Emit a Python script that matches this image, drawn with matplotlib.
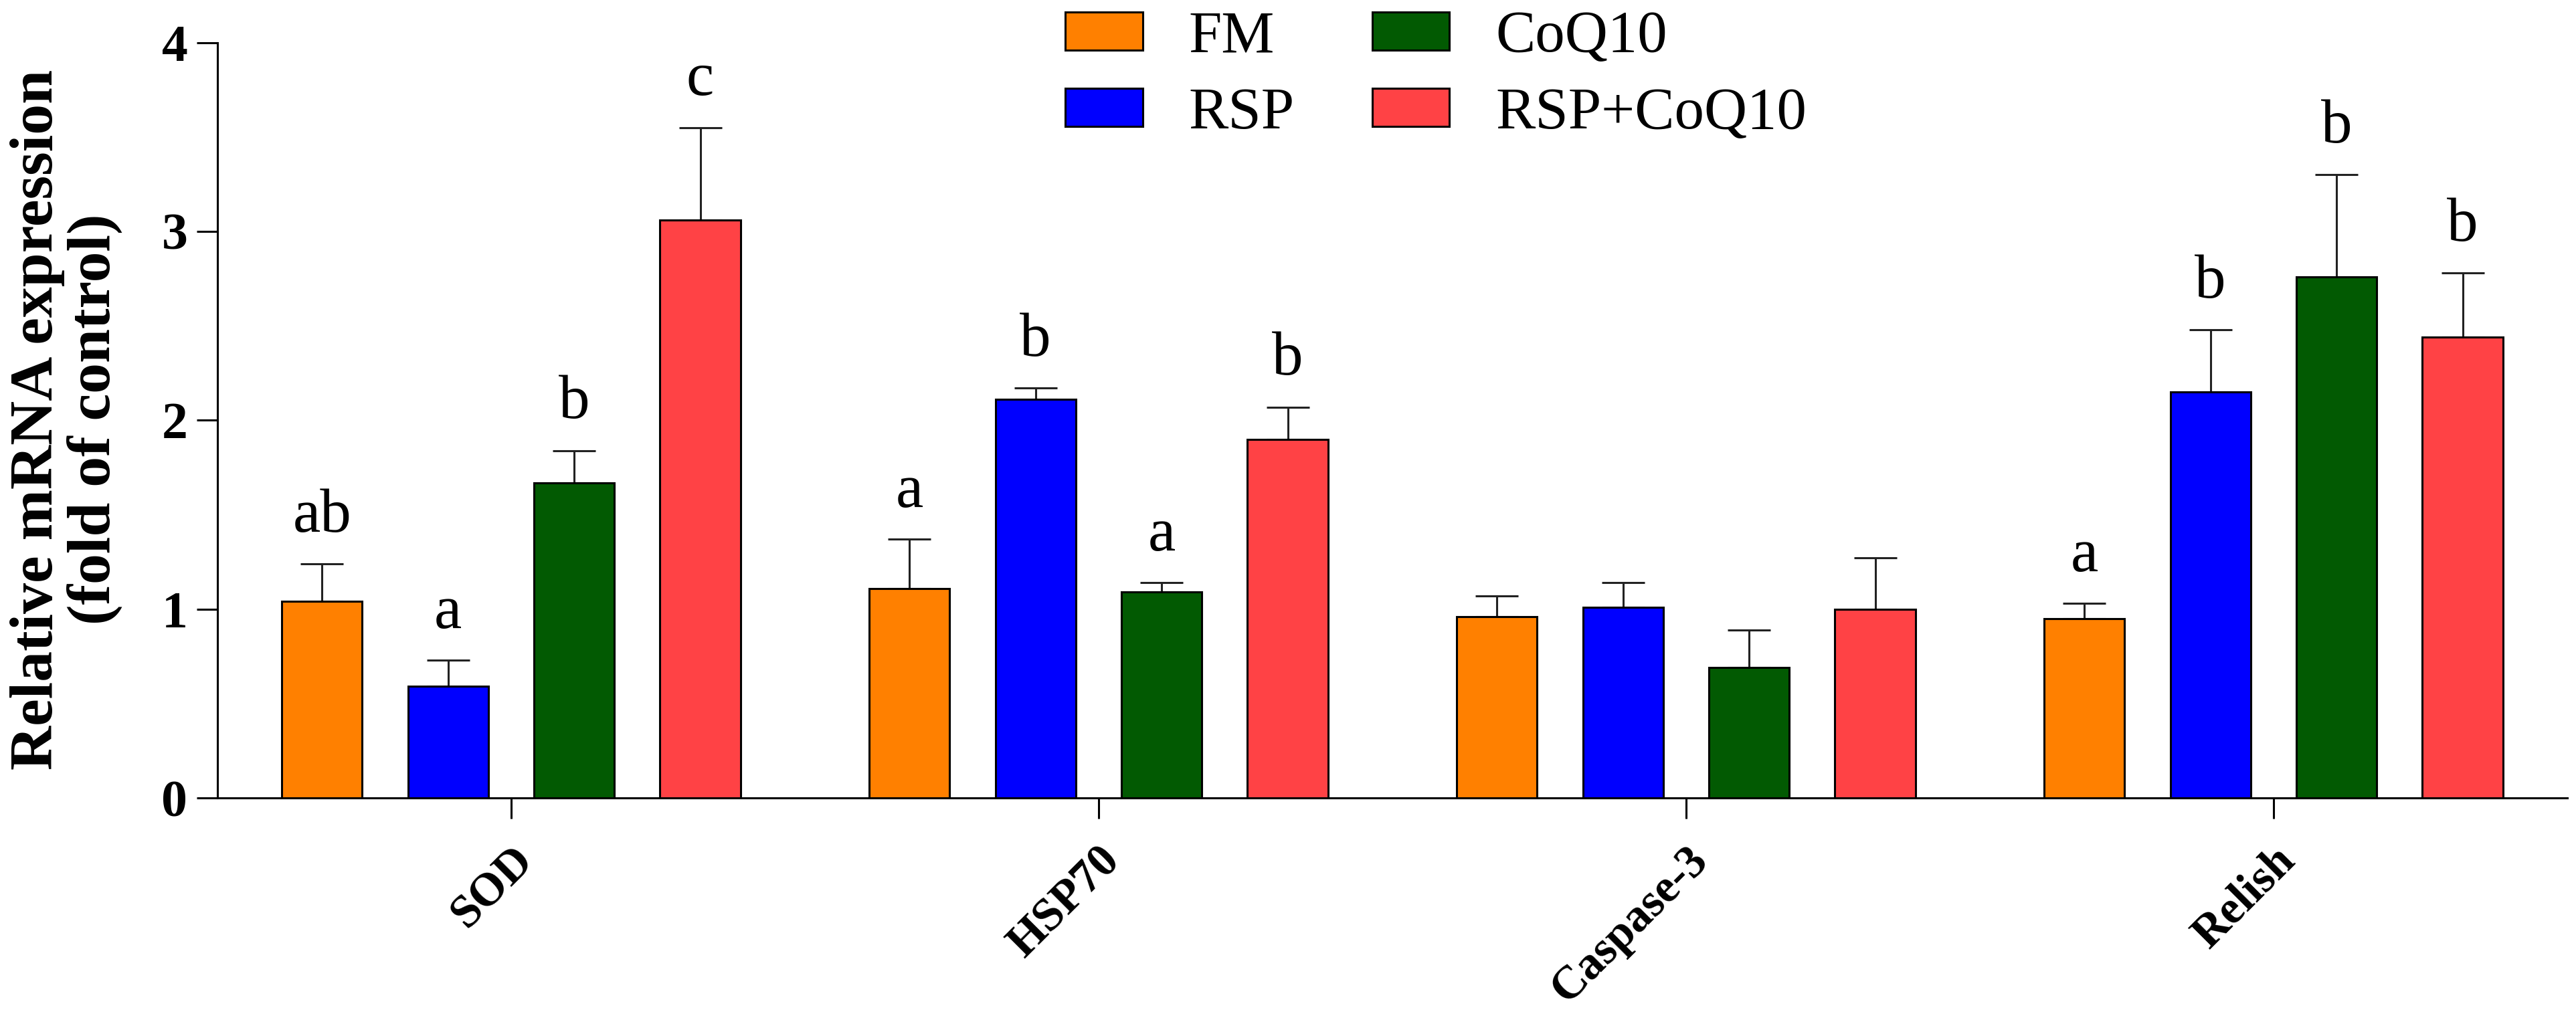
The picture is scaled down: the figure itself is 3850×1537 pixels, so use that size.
import numpy as np
import matplotlib
matplotlib.use("Agg")
import matplotlib.pyplot as plt
from matplotlib.transforms import ScaledTranslation

plt.rcParams['font.family'] = ['Liberation Serif', 'DejaVu Serif']

genes = ["SOD", "HSP70", "Caspase-3", "Relish"]
groups = ["FM", "RSP", "CoQ10", "RSP+CoQ10"]
colors = ["#FF8000", "#0000FF", "#025A02", "#FF4245"]

# mean and upper SD, one list per treatment (order follows genes)
fm_mean = [1.04, 1.11, 0.96, 0.95]
fm_sd = [0.20, 0.26, 0.11, 0.08]
rsp_mean = [0.59, 2.11, 1.01, 2.15]
rsp_sd = [0.14, 0.06, 0.13, 0.33]
coq_mean = [1.67, 1.09, 0.69, 2.76]
coq_sd = [0.17, 0.05, 0.20, 0.54]
mix_mean = [3.06, 1.90, 1.00, 2.44]
mix_sd = [0.49, 0.17, 0.27, 0.34]

fm_sig = ["ab", "a", "", "a"]
rsp_sig = ["a", "b", "", "b"]
coq_sig = ["b", "a", "", "b"]
mix_sig = ["c", "b", "", "b"]

means = [fm_mean, rsp_mean, coq_mean, mix_mean]
sds = [fm_sd, rsp_sd, coq_sd, mix_sd]
sigs = [fm_sig, rsp_sig, coq_sig, mix_sig]

fig = plt.figure(figsize=(38.5, 15.37), dpi=100)
ax = fig.add_axes([0.0844, 0.2238, 0.9122, 0.7348])

x = np.arange(len(genes))
pitch = 0.2146
width = 0.137
lw = 2.2

for i in range(4):
    pos = x + (i - 1.5) * pitch
    ax.bar(pos, means[i], width, color=colors[i], edgecolor="black",
           linewidth=lw, label=groups[i], zorder=3)
    ax.errorbar(pos, means[i], yerr=[np.zeros(4), sds[i]], fmt="none",
                ecolor="#222222", elinewidth=lw, capsize=23, capthick=lw,
                zorder=2)
    for j in range(4):
        if sigs[i][j]:
            ax.text(pos[j], means[i][j] + sds[i][j] + 0.1, sigs[i][j],
                    ha="center", va="bottom", fontsize=67)

ax.set_xlim(-0.5, 3.5)
ax.set_ylim(0, 4)
ax.set_yticks([0, 1, 2, 3, 4])
ax.set_xticks(x)
ax.set_xticklabels(genes, rotation=45, ha="right", rotation_mode="anchor",
                   fontsize=50, fontweight="bold")
shift = ScaledTranslation(0.18, 0, fig.dpi_scale_trans)
for lab in ax.get_xticklabels():
    lab.set_transform(lab.get_transform() + shift)
for lab in ax.get_yticklabels():
    lab.set_fontweight("bold")
ax.tick_params(axis="y", labelsize=56, length=22, width=lw, pad=10)
ax.tick_params(axis="x", length=22, width=lw, pad=22)

ax.spines["top"].set_visible(False)
ax.spines["right"].set_visible(False)
ax.spines["left"].set_linewidth(lw)
ax.spines["bottom"].set_linewidth(lw)

fig.text(0.0257, 0.592, "Relative mRNA expression\n(fold of control)",
         rotation=90, ha="center", va="center", multialignment="center",
         fontsize=66, fontweight="bold", linespacing=1.05)

leg = ax.legend(ncol=2, loc="upper left", bbox_to_anchor=(0.4135, 0.99),
                bbox_transform=fig.transFigure, frameon=False, fontsize=64,
                handlelength=1.3, handleheight=0.61, handletextpad=0.78,
                columnspacing=1.3, labelspacing=0.38, borderpad=0.0,
                borderaxespad=0.0)

fig.savefig("out.png", dpi=100)
